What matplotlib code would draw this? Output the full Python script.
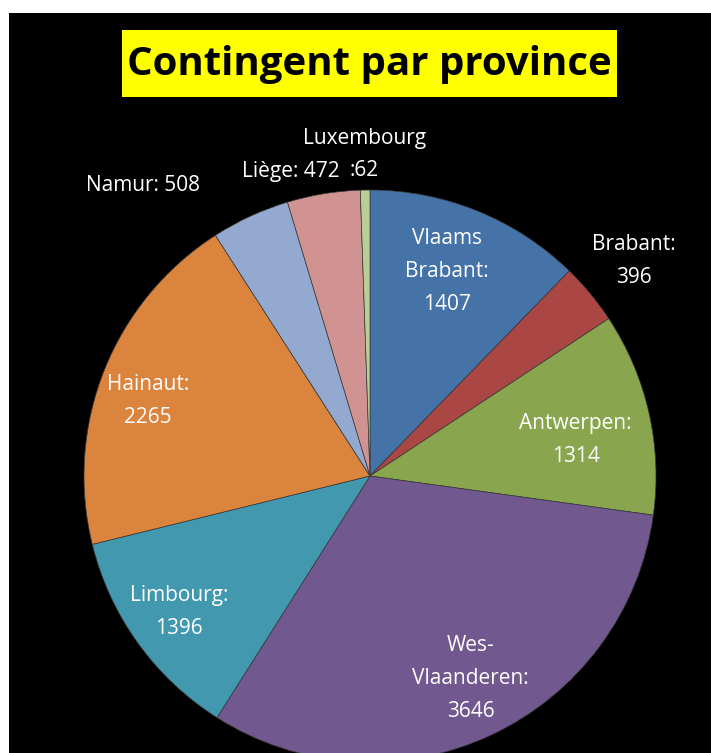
import matplotlib.pyplot as plt
import numpy as np
from matplotlib.patches import Rectangle

provinces = ["Vlaams\nBrabant", "Brabant", "Antwerpen", "Wes-\nVlaanderen", "Limbourg",
             "Hainaut", "Namur", "Liège", "Luxembourg"]
contingent = [1407, 396, 1314, 3646, 1396, 2265, 508, 472, 62]
colors = ["#4572A7", "#AA4643", "#89A54E", "#71588F", "#4198AF",
          "#DB843D", "#93A9CF", "#D19392", "#B9CD96"]

# label placement: (distance from centre, angle shift in degrees, separator)
label_pos = [(0.765, 1.5, ":\n"), (1.19, -0.5, ":\n"), (0.73, -2.8, ":\n"), (0.79, 1.6, ":\n"),
             (0.82, -0.3, ":\n"), (0.82, 3.2, ":\n"), (1.29, 13.3, ": "), (1.10, 5.2, ": "),
             (1.14, -0.1, None)]

fig = plt.figure(figsize=(7.11, 7.53), dpi=100)
fig.patch.set_facecolor("white")
fig.patches.append(Rectangle((9 / 711, 0), 1, 1 - 13 / 753, transform=fig.transFigure,
                             facecolor="black", edgecolor="none", zorder=-2))
fig.patches.append(Rectangle((122 / 711, 1 - 97 / 753), 495 / 711, 67 / 753,
                             transform=fig.transFigure, facecolor="#FFFF00",
                             edgecolor="none", zorder=-1))

ax = fig.add_axes([84 / 711, -9 / 753, 572 / 711, 572 / 753])
ax.patch.set_alpha(0)
ax.axis("off")

wedges, _ = ax.pie(contingent, colors=colors, startangle=90, counterclock=False,
                   radius=1, wedgeprops=dict(edgecolor="#3a3a3a", linewidth=0.5))
ax.set_xlim(-1, 1)
ax.set_ylim(-1, 1)

style = dict(color="white", fontsize=15, family="Open Sans", ha="center",
             linespacing=1.75, clip_on=False)
for w, name, val, (dist, shift, sep) in zip(wedges, provinces, contingent, label_pos):
    ang = np.deg2rad((w.theta1 + w.theta2) / 2 + shift)
    x, y = dist * np.cos(ang), dist * np.sin(ang)
    if sep is None:
        # name on one line, ":value" on the line below
        ax.text(x, y + 0.005, name, va="bottom", **style)
        ax.text(x - 0.005, y - 0.035, ":" + str(val), va="top", **style)
    else:
        ax.text(x, y, name + sep + str(val), va="center", **style)

fig.text(369 / 711, 1 - 64 / 753, "Contingent par province", fontsize=29, fontweight="bold",
         family="Open Sans", color="black", ha="center", va="center")

fig.savefig("out.png", dpi=100, facecolor=fig.get_facecolor())
